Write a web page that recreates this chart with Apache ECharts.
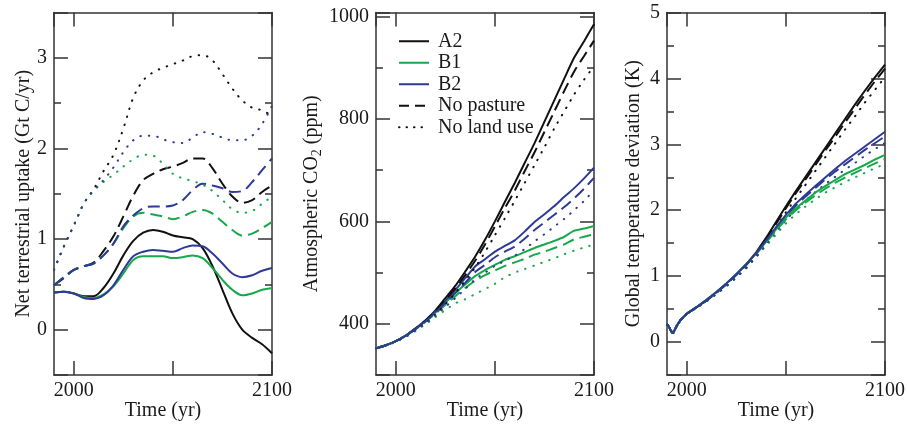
<!DOCTYPE html>
<html>
<head>
<meta charset="utf-8">
<script src="https://cdn.jsdelivr.net/npm/echarts@6/dist/echarts.min.js"></script>
<style>
html,body{margin:0;padding:0;background:#fff;}
#chart{width:907px;height:424px;}
</style>
</head>
<body>
<div id="chart"></div>
<script>
// ---------- data ----------
const years = [1990,1995,2000,2005,2010,2015,2020,2025,2030,2035,2040,2045,2050,2055,2060,2065,2070,2075,2080,2085,2090,2095,2100];
const tempYears = [1990,1991,1992,1993,1994,1995,1997,2000,2005,2010,2015,2020,2025,2030,2035,2040,2045,2050,2055,2060,2065,2070,2075,2080,2085,2090,2095,2100];
const xTickLabels = [2000, 2100];
const legendNames = ['A2','B1','B2','No pasture','No land use'];

// Panel 1: net terrestrial uptake (Gt C/yr)
const uptakeA2          = [0.41,0.42,0.40,0.37,0.37,0.46,0.62,0.82,0.98,1.07,1.10,1.08,1.04,1.02,1.00,0.90,0.70,0.44,0.18,0.00,-0.09,-0.16,-0.26];
const uptakeB1          = [0.41,0.42,0.40,0.36,0.35,0.39,0.48,0.62,0.77,0.81,0.81,0.81,0.79,0.80,0.82,0.79,0.68,0.55,0.44,0.38,0.40,0.44,0.46];
const uptakeB2          = [0.41,0.42,0.40,0.35,0.34,0.38,0.49,0.66,0.81,0.86,0.88,0.87,0.86,0.90,0.93,0.92,0.84,0.73,0.62,0.58,0.60,0.65,0.68];
const uptakeA2NoPasture = [0.49,0.57,0.66,0.70,0.74,0.87,1.03,1.25,1.48,1.65,1.72,1.77,1.80,1.84,1.89,1.89,1.78,1.61,1.47,1.40,1.43,1.52,1.59];
const uptakeB1NoPasture = [0.49,0.58,0.66,0.70,0.73,0.82,0.95,1.12,1.25,1.29,1.27,1.25,1.22,1.25,1.30,1.32,1.28,1.19,1.10,1.04,1.06,1.12,1.19];
const uptakeB2NoPasture = [0.49,0.58,0.66,0.70,0.73,0.82,0.95,1.14,1.26,1.34,1.36,1.36,1.37,1.43,1.54,1.61,1.59,1.56,1.52,1.53,1.63,1.76,1.89];
const uptakeA2NoLand    = [0.66,0.92,1.15,1.39,1.55,1.75,1.93,2.22,2.56,2.75,2.84,2.89,2.93,2.97,3.02,3.03,2.97,2.82,2.66,2.53,2.45,2.42,2.36];
const uptakeB1NoLand    = [0.66,0.92,1.15,1.39,1.53,1.63,1.71,1.80,1.88,1.93,1.92,1.83,1.72,1.67,1.64,1.60,1.53,1.43,1.33,1.29,1.31,1.39,1.47];
const uptakeB2NoLand    = [0.66,0.92,1.15,1.39,1.54,1.65,1.79,1.96,2.09,2.14,2.14,2.10,2.07,2.06,2.12,2.18,2.16,2.12,2.09,2.09,2.14,2.27,2.47];

// Panel 2: atmospheric CO2 (ppm)
const co2A2          = [352,358,366,377,391,407,426,450,474,502,531,564,600,638,675,714,753,795,837,879,920,952,985];
const co2B1          = [352,358,366,377,390,405,422,441,460,477,493,505,515,525,532,540,548,555,562,570,582,586,591];
const co2B2          = [352,358,366,377,390,406,424,445,466,489,512,526,541,552,563,580,599,614,630,648,665,684,705];
const co2A2NoPasture = [352,358,366,377,391,406,424,446,469,495,523,555,590,626,660,698,735,775,815,855,893,923,953];
const co2B1NoPasture = [352,358,366,377,390,404,420,437,454,470,484,495,504,513,520,527,535,541,548,555,565,570,575];
const co2B2NoPasture = [352,358,366,377,390,405,422,441,460,480,501,515,530,541,551,566,583,598,613,628,645,664,685];
const co2A2NoLand    = [352,358,365,375,387,401,418,438,460,484,510,540,573,606,640,675,710,745,782,815,848,877,903];
const co2B1NoLand    = [352,358,365,375,386,399,413,427,440,448,458,468,478,491,500,507,514,521,528,536,543,549,555];
const co2B2NoLand    = [352,358,365,375,387,401,416,433,450,468,487,500,513,523,533,546,561,575,590,605,622,640,661];

// Panel 3: global temperature deviation (K)
const tempA2          = [0.27,0.23,0.17,0.13,0.19,0.25,0.34,0.43,0.53,0.64,0.76,0.89,1.03,1.18,1.36,1.58,1.82,2.06,2.29,2.51,2.73,2.95,3.17,3.39,3.61,3.82,4.02,4.21];
const tempB1          = [0.27,0.23,0.17,0.13,0.19,0.25,0.34,0.43,0.53,0.64,0.76,0.89,1.03,1.18,1.35,1.52,1.71,1.89,2.03,2.15,2.27,2.37,2.46,2.55,2.62,2.69,2.77,2.84];
const tempB2          = [0.27,0.23,0.17,0.13,0.19,0.25,0.34,0.43,0.53,0.64,0.76,0.89,1.03,1.18,1.35,1.54,1.74,1.93,2.10,2.24,2.37,2.50,2.63,2.75,2.86,2.97,3.08,3.19];
const tempA2NoPasture = [0.27,0.23,0.17,0.13,0.19,0.25,0.34,0.43,0.53,0.63,0.75,0.88,1.02,1.17,1.34,1.56,1.79,2.03,2.26,2.47,2.69,2.91,3.12,3.34,3.55,3.76,3.96,4.15];
const tempB1NoPasture = [0.27,0.23,0.17,0.13,0.19,0.25,0.34,0.43,0.53,0.63,0.75,0.88,1.02,1.17,1.34,1.51,1.69,1.86,2.00,2.12,2.23,2.33,2.42,2.50,2.57,2.64,2.71,2.78];
const tempB2NoPasture = [0.27,0.23,0.17,0.13,0.19,0.25,0.34,0.43,0.53,0.63,0.75,0.88,1.02,1.17,1.34,1.53,1.72,1.90,2.07,2.21,2.34,2.47,2.59,2.70,2.81,2.92,3.02,3.12];
const tempA2NoLand    = [0.27,0.23,0.17,0.13,0.19,0.25,0.34,0.43,0.52,0.62,0.73,0.85,0.98,1.13,1.30,1.50,1.73,1.97,2.18,2.39,2.60,2.81,3.02,3.23,3.43,3.64,3.83,4.02];
const tempB1NoLand    = [0.27,0.23,0.17,0.13,0.19,0.25,0.34,0.43,0.52,0.62,0.73,0.85,0.98,1.12,1.29,1.46,1.63,1.80,1.94,2.06,2.17,2.27,2.35,2.43,2.50,2.57,2.64,2.70];
const tempB2NoLand    = [0.27,0.23,0.17,0.13,0.19,0.25,0.34,0.43,0.52,0.62,0.73,0.85,0.98,1.12,1.29,1.48,1.67,1.85,2.01,2.15,2.28,2.40,2.51,2.62,2.72,2.83,2.93,3.02];

// ---------- styling ----------
const FONT = "'Liberation Serif','Times New Roman',serif";
const TXT = '#1a1a1a';
const FRAME = '#333';
const BLACK = '#111111', GREEN = '#17a84b', BLUE = '#2e3a96';
const DASH = [12, 6], DOT = [0.5, 8];

const grids = [
  {left: 54,  right: 635, top: 12.5, bottom: 49, containLabel: false, outerBoundsMode: 'none'},
  {left: 376, right: 313, top: 12.5, bottom: 49, containLabel: false, outerBoundsMode: 'none'},
  {left: 667, right: 22,  top: 12.5, bottom: 49, containLabel: false, outerBoundsMode: 'none'}
];

function lineSty(){ return {color: FRAME, width: 1.5}; }

function xAxesFor(gi){
  const base = {
    type: 'value', gridIndex: gi, min: 1990, max: 2100,
    minInterval: 50, maxInterval: 50,
    splitLine: {show: false},
    axisLine: {show: true, onZero: false, lineStyle: lineSty()},
    axisTick: {show: true, inside: true, length: 14, lineStyle: lineSty()}
  };
  return [
    Object.assign({}, base, {
      position: 'bottom',
      name: 'Time (yr)', nameLocation: 'middle', nameGap: 26, nameMoveOverlap: false,
      nameTextStyle: {fontFamily: FONT, fontSize: 20, color: TXT},
      axisLabel: {show: true, margin: 6, fontFamily: FONT, fontSize: 20, color: TXT,
        showMinLabel: false, showMaxLabel: true,
        formatter: v => xTickLabels.indexOf(v) >= 0 ? String(v) : ''}
    }),
    Object.assign({}, base, {position: 'top', axisLabel: {show: false}})
  ];
}

function yAxesFor(gi, min, max, step, name, nameGap, showMax, rich){
  const base = {
    type: 'value', gridIndex: gi, min: min, max: max,
    minInterval: step, maxInterval: step,
    splitLine: {show: false},
    axisLine: {show: true, onZero: false, lineStyle: lineSty()},
    axisTick: {show: true, inside: true, length: 14, lineStyle: lineSty()},
    minorTick: {show: true, splitNumber: 2, length: 7, lineStyle: lineSty()},
    minorSplitLine: {show: false}
  };
  const nts = {fontFamily: FONT, fontSize: 20, color: TXT, lineHeight: 24};
  if (rich) nts.rich = rich;
  return [
    Object.assign({}, base, {
      position: 'left',
      name: name, nameLocation: 'middle', nameGap: nameGap, nameMoveOverlap: false,
      nameTextStyle: nts,
      axisLabel: {show: true, margin: 7, fontFamily: FONT, fontSize: 20, color: TXT,
        showMinLabel: false, showMaxLabel: showMax,
        formatter: v => String(v)}
    }),
    Object.assign({}, base, {position: 'right', axisLabel: {show: false}})
  ];
}

const subRich = {
  s: {fontFamily: FONT, fontSize: 14, lineHeight: 14, verticalAlign: 'bottom', color: TXT}
};

const xAxis = [].concat(xAxesFor(0), xAxesFor(1), xAxesFor(2));
const yAxis = [].concat(
  yAxesFor(0, -0.5, 3.5, 1, 'Net terrestrial uptake (Gt C/yr)', 18, false),
  yAxesFor(1, 300, 1008, 200, 'Atmospheric CO{s|2} (ppm)', 52, false, subRich),
  yAxesFor(2, -0.5, 5, 1, 'Global temperature deviation (K)', 21, true)
);

function mk(name, gi, xs, ys, color, dash, smooth){
  return {
    name: name, type: 'line', xAxisIndex: gi*2, yAxisIndex: gi*2,
    data: xs.map((x, i) => [x, ys[i]]),
    symbol: 'none', showSymbol: false, smooth: smooth, silent: true,
    lineStyle: {color: color, width: 2, type: dash || 'solid', cap: dash === DOT ? 'round' : 'butt'},
    itemStyle: {color: color},
    emphasis: {disabled: true}
  };
}

const series = [
  mk('A2', 0, years, uptakeA2, BLACK, null, 0.35),
  mk('B1', 0, years, uptakeB1, GREEN, null, 0.35),
  mk('B2', 0, years, uptakeB2, BLUE, null, 0.35),
  mk('No pasture', 0, years, uptakeA2NoPasture, BLACK, DASH, 0.35),
  mk('No land use', 0, years, uptakeA2NoLand, BLACK, DOT, 0.35),
  mk('B1 np 1', 0, years, uptakeB1NoPasture, GREEN, DASH, 0.35),
  mk('B2 np 1', 0, years, uptakeB2NoPasture, BLUE, DASH, 0.35),
  mk('B1 nl 1', 0, years, uptakeB1NoLand, GREEN, DOT, 0.35),
  mk('B2 nl 1', 0, years, uptakeB2NoLand, BLUE, DOT, 0.35),

  mk('A2 co2', 1, years, co2A2, BLACK, null, 0.2),
  mk('B1 co2', 1, years, co2B1, GREEN, null, 0.2),
  mk('B2 co2', 1, years, co2B2, BLUE, null, 0.2),
  mk('A2 np 2', 1, years, co2A2NoPasture, BLACK, DASH, 0.2),
  mk('B1 np 2', 1, years, co2B1NoPasture, GREEN, DASH, 0.2),
  mk('B2 np 2', 1, years, co2B2NoPasture, BLUE, DASH, 0.2),
  mk('A2 nl 2', 1, years, co2A2NoLand, BLACK, DOT, 0.2),
  mk('B1 nl 2', 1, years, co2B1NoLand, GREEN, DOT, 0.2),
  mk('B2 nl 2', 1, years, co2B2NoLand, BLUE, DOT, 0.2),

  mk('A2 nl 3', 2, tempYears, tempA2NoLand, BLACK, DOT, false),
  mk('B1 nl 3', 2, tempYears, tempB1NoLand, GREEN, DOT, false),
  mk('B2 nl 3', 2, tempYears, tempB2NoLand, BLUE, DOT, false),
  mk('A2 np 3', 2, tempYears, tempA2NoPasture, BLACK, DASH, false),
  mk('B1 np 3', 2, tempYears, tempB1NoPasture, GREEN, DASH, false),
  mk('B2 np 3', 2, tempYears, tempB2NoPasture, BLUE, DASH, false),
  mk('A2 t', 2, tempYears, tempA2, BLACK, null, false),
  mk('B1 t', 2, tempYears, tempB1, GREEN, null, false),
  mk('B2 t', 2, tempYears, tempB2, BLUE, null, false)
];

const legendLineTypes = {'A2': 'solid', 'B1': 'solid', 'B2': 'solid', 'No pasture': [10, 6], 'No land use': [0.5, 7]};
const legendColors = {'A2': BLACK, 'B1': GREEN, 'B2': BLUE, 'No pasture': BLACK, 'No land use': BLACK};

const chart = echarts.init(document.getElementById('chart'), null, {renderer: 'canvas'});
chart.setOption({
  backgroundColor: '#fff',
  animation: false,
  grid: grids,
  xAxis: xAxis,
  yAxis: yAxis,
  legend: {
    data: legendNames.map(n => ({
      name: n,
      itemStyle: {color: 'rgba(0,0,0,0)', borderWidth: 0, opacity: 0},
      lineStyle: {color: legendColors[n], width: 2, type: legendLineTypes[n],
        cap: n === 'No land use' ? 'round' : 'butt', opacity: 1}
    })),
    orient: 'vertical',
    left: 393, top: 26,
    itemWidth: 30, itemHeight: 12, itemGap: 1,
    selectedMode: false,
    itemStyle: {color: 'rgba(0,0,0,0)', borderWidth: 0},
    textStyle: {fontFamily: FONT, fontSize: 20, color: TXT, lineHeight: 20.5, padding: [0, 0, 0, 4]}
  },
  series: series
});
</script>
</body>
</html>
